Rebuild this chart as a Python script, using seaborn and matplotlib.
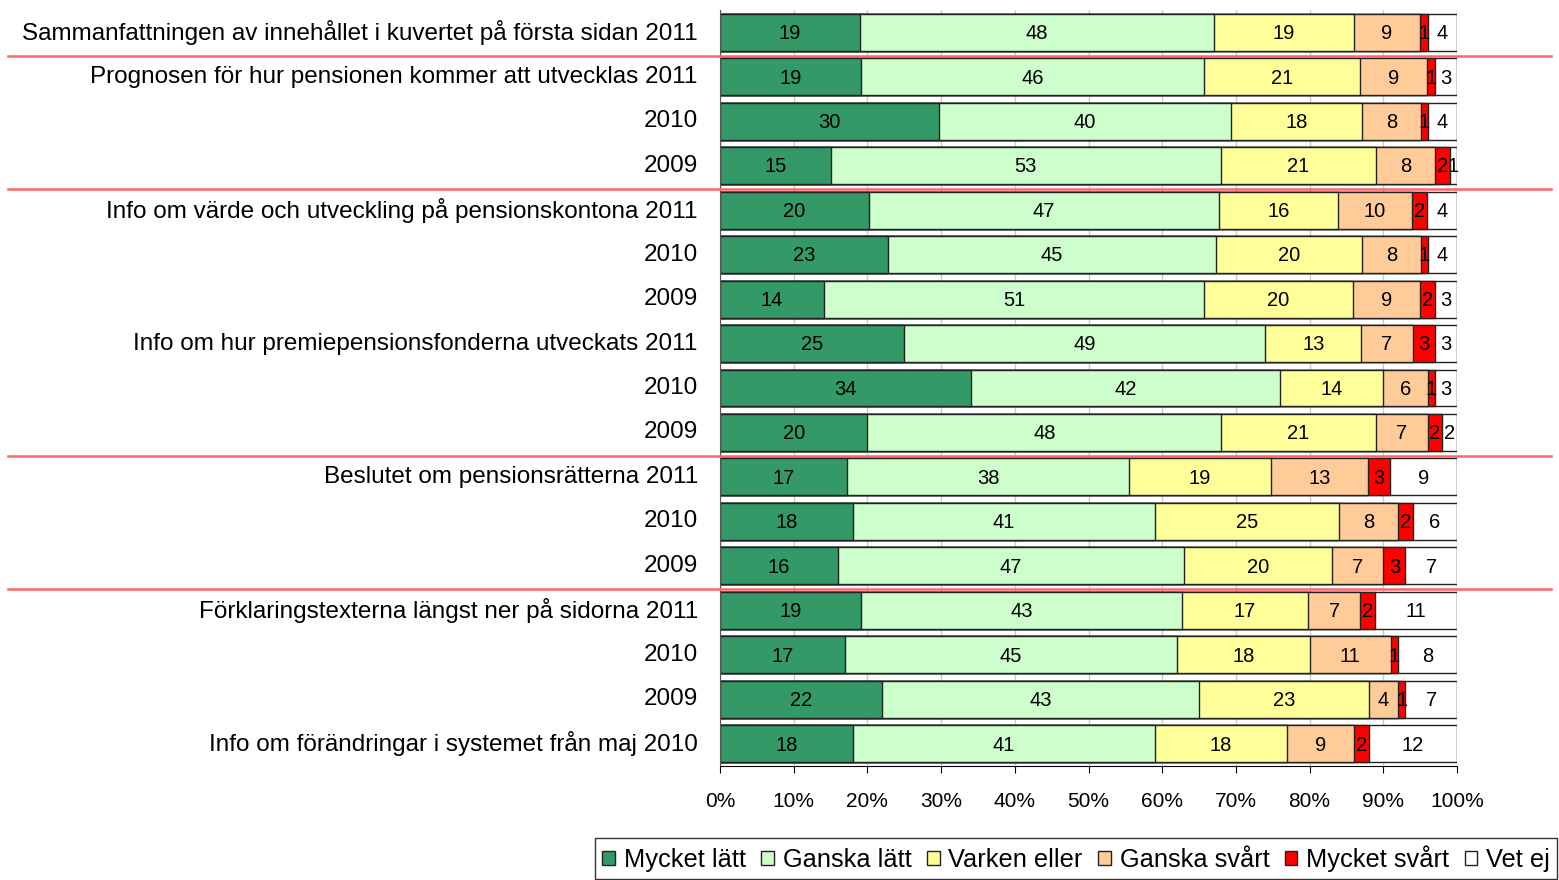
import pandas as pd
import numpy as np
import matplotlib
matplotlib.use("Agg")
import matplotlib.pyplot as plt
from matplotlib.patches import Patch
import seaborn as sns

# Row labels (top to bottom)
labels = [
    "Sammanfattningen av innehållet i kuvertet på första sidan 2011",
    "Prognosen för hur pensionen kommer att utvecklas 2011",
    "2010",
    "2009",
    "Info om värde och utveckling på pensionskontona 2011",
    "2010",
    "2009",
    "Info om hur premiepensionsfonderna utveckats 2011",
    "2010",
    "2009",
    "Beslutet om pensionsrätterna 2011",
    "2010",
    "2009",
    "Förklaringstexterna längst ner på sidorna 2011",
    "2010",
    "2009",
    "Info om förändringar i systemet från maj 2010",
]

categories = ["Mycket lätt", "Ganska lätt", "Varken eller", "Ganska svårt", "Mycket svårt", "Vet ej"]
colors = ["#339966", "#ccffcc", "#ffff99", "#ffcc99", "#ff0000", "#ffffff"]

mycket_latt = [19, 19, 30, 15, 20, 23, 14, 25, 34, 20, 17, 18, 16, 19, 17, 22, 18]
ganska_latt = [48, 46, 40, 53, 47, 45, 51, 49, 42, 48, 38, 41, 47, 43, 45, 43, 41]
varken_eller = [19, 21, 18, 21, 16, 20, 20, 13, 14, 21, 19, 25, 20, 17, 18, 23, 18]
ganska_svart = [9, 9, 8, 8, 10, 8, 9, 7, 6, 7, 13, 8, 7, 7, 11, 4, 9]
mycket_svart = [1, 1, 1, 2, 2, 1, 2, 3, 1, 2, 3, 2, 3, 2, 1, 1, 2]
vet_ej = [4, 3, 4, 1, 4, 4, 3, 3, 3, 2, 9, 6, 7, 11, 8, 7, 12]

# group boundaries (index of first row of each new question)
group_starts = [1, 4, 10, 13]

vals = np.array([mycket_latt, ganska_latt, varken_eller, ganska_svart, mycket_svart, vet_ej], dtype=float)
pct = vals / vals.sum(axis=0) * 100
cum = np.cumsum(pct, axis=0)

plt.rcParams["font.family"] = ["Liberation Sans", "DejaVu Sans"]

fig = plt.figure(figsize=(15.59, 8.8), dpi=100)
ax = fig.add_axes([720 / 1559, 1 - 766 / 880, 737 / 1559, 756 / 880])

rows = np.arange(len(labels))
# draw cumulative bars from the last category to the first so they stack
for i in range(len(categories) - 1, -1, -1):
    df = pd.DataFrame({"row": rows, "cum": cum[i]})
    sns.barplot(data=df, x="cum", y="row", orient="h", color=colors[i], saturation=1,
                edgecolor="#222222", linewidth=1.0, width=0.83, errorbar=None, ax=ax, zorder=2)

# value labels
for i in range(len(categories)):
    for r in rows:
        xc = cum[i, r] - pct[i, r] / 2
        ax.text(xc, r + 0.03, f"{int(vals[i, r])}", ha="center", va="center",
                fontsize=14.5, color="black", zorder=5)

ax.set_xlim(0, 100)
ax.set_ylim(len(labels) - 0.5, -0.5)
ax.set_xticks(np.arange(0, 101, 10))
ax.set_xticklabels([f"{t}%" for t in range(0, 101, 10)], fontsize=15)
ax.set_yticks(rows)
ax.set_yticklabels(labels, fontsize=17.5, va="center")
ax.tick_params(axis="y", length=0, pad=16)
ax.tick_params(axis="x", length=5, pad=14, direction="out")
ax.set_xlabel("")
ax.set_ylabel("")
ax.xaxis.grid(True, color="#cccccc", linewidth=1, zorder=0)
ax.set_axisbelow(True)
for s in ["top", "right"]:
    ax.spines[s].set_visible(False)
ax.spines["left"].set_color("#555555")
ax.spines["bottom"].set_color("black")

# red separator lines between questions
x0 = (8 - 720) / 737
x1 = (1551 - 720) / 737
for g in group_starts:
    ax.axhline(g - 0.47, xmin=x0, xmax=x1, color="#ff6666", linewidth=1.8, clip_on=False, zorder=3)

handles = [Patch(facecolor=c, edgecolor="#222222", linewidth=1) for c in colors]
leg = fig.legend(handles, categories, loc="upper left", bbox_to_anchor=(595 / 1559, 1 - 838 / 880),
                 ncol=6, fontsize=18.3, frameon=True, fancybox=False, edgecolor="black",
                 handlelength=0.5, handleheight=0.5, handletextpad=0.35, columnspacing=0.6,
                 borderpad=0.28, borderaxespad=0)
leg.get_frame().set_linewidth(1.0)

fig.savefig("out.png", dpi=100)
